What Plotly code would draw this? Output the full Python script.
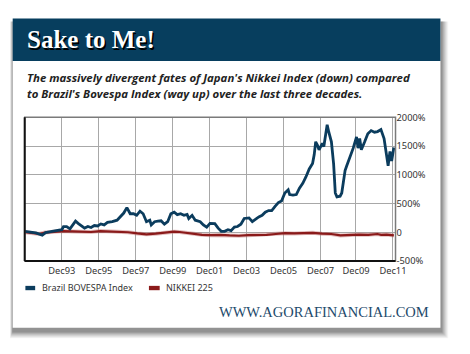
import plotly.graph_objects as go

# ---------------- data ----------------
bov_year = [1991.92, 1992.16, 1992.51, 1992.86, 1993.04, 1993.39, 1993.65, 1993.92, 1994.01, 1994.18,
            1994.36, 1994.54, 1994.66, 1994.80, 1994.98, 1995.15, 1995.33, 1995.50, 1995.68, 1995.86,
            1996.03, 1996.21, 1996.39, 1996.65, 1996.91, 1997.09, 1997.27, 1997.44, 1997.53, 1997.62,
            1997.80, 1997.97, 1998.15, 1998.32, 1998.50, 1998.68, 1998.76, 1998.94, 1999.12, 1999.29,
            1999.47, 1999.65, 1999.82, 2000.00, 2000.17, 2000.35, 2000.53, 2000.70, 2000.79, 2000.97,
            2001.14, 2001.41, 2001.58, 2001.76, 2001.94, 2002.20, 2002.38, 2002.55, 2002.73, 2002.91,
            2003.08, 2003.26, 2003.43, 2003.61, 2003.79, 2004.05, 2004.23, 2004.40, 2004.58, 2004.76,
            2004.93, 2005.11, 2005.28, 2005.46, 2005.64, 2005.81, 2005.99, 2006.17, 2006.25, 2006.43,
            2006.61, 2006.78, 2006.96, 2007.13, 2007.31, 2007.49, 2007.58, 2007.66, 2007.75, 2007.84,
            2008.02, 2008.10, 2008.19, 2008.28, 2008.37, 2008.51, 2008.63, 2008.72, 2008.81, 2008.98,
            2009.07, 2009.16, 2009.25, 2009.34, 2009.51, 2009.69, 2009.87, 2009.95, 2010.04, 2010.13,
            2010.31, 2010.48, 2010.66, 2010.84, 2011.01, 2011.19, 2011.36, 2011.50, 2011.58, 2011.68,
            2011.77, 2011.89]
bov_pct = [15, 0, -10, -50, -5, 15, 35, 45, 100, 100,
           60, 130, 195, 155, 110, 72, 100, 83, 117, 110,
           145, 128, 172, 184, 210, 267, 334, 428, 378, 322,
           322, 295, 367, 322, 184, 210, 128, 184, 195, 200,
           140, 184, 322, 350, 306, 322, 295, 311, 240, 295,
           210, 184, 128, 89, 155, 150, 72, 17, 17, 45,
           28, 89, 100, 140, 240, 250, 184, 228, 267, 295,
           350, 378, 378, 450, 517, 545, 684, 740, 656, 645,
           656, 768, 851, 962, 1101, 1196, 1352, 1574, 1519, 1435,
           1547, 1491, 1714, 1869, 1741, 1574, 1185, 684, 617, 628,
           684, 907, 1074, 1157, 1296, 1463, 1658, 1463, 1630, 1435,
           1574, 1714, 1769, 1741, 1752, 1786, 1630, 1352, 1157, 1407,
           1240, 1474]

nik_year = [1991.92, 1992.3, 1992.7, 1993.0, 1993.5, 1994.0, 1994.5, 1995.0, 1995.5, 1996.0,
            1996.5, 1997.0, 1997.5, 1998.0, 1998.5, 1999.0, 1999.5, 2000.0, 2000.3, 2000.7,
            2001.0, 2001.5, 2002.0, 2002.5, 2003.0, 2003.5, 2004.0, 2004.5, 2005.0, 2005.5,
            2006.0, 2006.5, 2007.0, 2007.5, 2008.0, 2008.5, 2009.0, 2009.5, 2010.0, 2010.5,
            2011.0, 2011.2, 2011.5, 2011.89]
nik_pct = [0, -10, -30, -5, 10, 20, 15, 10, 5, 20,
           15, 5, 0, -20, -35, -25, -5, 10, 5, -15,
           -30, -45, -50, -45, -55, -60, -50, -50, -45, -30,
           -15, -20, -15, -10, -25, -30, -55, -45, -40, -45,
           -30, -45, -40, -55]

tick_vals = [1993.92, 1995.92, 1997.92, 1999.92, 2001.92, 2003.92, 2005.92, 2007.92, 2009.84, 2011.84]
tick_text = ["Dec93", "Dec95", "Dec97", "Dec99", "Dec01", "Dec03", "Dec05", "Dec07", "Dec09", "Dec11"]
y_vals = [-500, 0, 500, 1000, 1500, 2000]
y_text = ["-500%", "0", "500%", "1000%", "1500%", "2000%"]

title = "Sake to Me!"
subtitle = ["The massively divergent fates of Japan's Nikkei Index (down) compared",
            "to Brazil's Bovespa Index (way up) over the last three decades."]
series_names = ["Brazil BOVESPA Index", "NIKKEI 225"]
footer = "WWW.AGORAFINANCIAL.COM"

# ---------------- layout helpers ----------------
W, H = 470, 354
def px(x): return x / W
def py(y): return 1 - y / H

BLUE = "#0b3c5d"
RED = "#8b1a1a"
HEADER = "#073e5e"
TXT = "#333333"

PL, PR, PT, PB = 25.3, 405.0, 114.5, 263.7

fig = go.Figure()
fig.add_trace(go.Scatter(x=nik_year, y=nik_pct, mode="lines",
                         line=dict(color="rgba(190,110,110,0.45)", width=4), hoverinfo="skip"))
fig.add_trace(go.Scatter(x=nik_year, y=nik_pct, mode="lines", name=series_names[1],
                         line=dict(color=RED, width=2.2)))
fig.add_trace(go.Scatter(x=bov_year, y=bov_pct, mode="lines", name=series_names[0],
                         line=dict(color=BLUE, width=2.8)))

shapes = []
# card shadow
for i, a in enumerate([0.04, 0.05, 0.06, 0.07, 0.08, 0.10, 0.12]):
    d = 7 - i
    shapes.append(dict(type="rect", xref="paper", yref="paper",
                       x0=px(13 - d * 0.4), x1=px(451 + d + 1), y0=py(333 + d + 4), y1=py(12 + 3),
                       line=dict(width=0), fillcolor=f"rgba(0,0,0,{a})", layer="below"))
# card
shapes.append(dict(type="rect", xref="paper", yref="paper", x0=px(13), x1=px(451), y0=py(333), y1=py(12),
                   line=dict(width=0), fillcolor="white", layer="below"))
# header band
shapes.append(dict(type="rect", xref="paper", yref="paper", x0=px(13), x1=px(451), y0=py(56), y1=py(12),
                   line=dict(width=0), fillcolor=HEADER, layer="below"))
# plot frame
shapes.append(dict(type="rect", xref="paper", yref="paper", x0=px(PL), x1=px(PR), y0=py(PB), y1=py(PT),
                   line=dict(color="#7a7a7a", width=1.5), layer="above"))
shapes.append(dict(type="line", xref="paper", yref="paper", x0=px(PL), x1=px(PL), y0=py(PB), y1=py(PT),
                   line=dict(color="#111111", width=2), layer="above"))
shapes.append(dict(type="line", xref="paper", yref="paper", x0=px(PL), x1=px(PR), y0=py(PB), y1=py(PB),
                   line=dict(color="#111111", width=2), layer="above"))
# legend swatches
shapes.append(dict(type="rect", xref="paper", yref="paper", x0=px(26), x1=px(36), y0=py(294), y1=py(289.5),
                   line=dict(width=0), fillcolor=BLUE))
shapes.append(dict(type="rect", xref="paper", yref="paper", x0=px(152.5), x1=px(163.5), y0=py(294), y1=py(289.5),
                   line=dict(width=0), fillcolor=RED))

ann = []
ann.append(dict(text=f"<b>{title}</b>", x=px(26), y=py(34), xref="paper", yref="paper",
                xanchor="left", yanchor="middle", showarrow=False,
                font=dict(family="Liberation Serif", size=25, color="white",
                          shadow="1.5px 1.5px 0.5px black")))
for i, line in enumerate(subtitle):
    ann.append(dict(text=f"<b><i>{line}</i></b>", x=px(25.5), y=py(73.5 + 16 * i), xref="paper", yref="paper",
                    xanchor="left", yanchor="middle", showarrow=False,
                    font=dict(family="Open Sans", size=11.4, color="#222222")))
ann.append(dict(text=series_names[0], x=px(40.5), y=py(291.5), xref="paper", yref="paper",
                xanchor="left", yanchor="middle", showarrow=False,
                font=dict(family="Noto Sans", size=9, color=TXT)))
ann.append(dict(text=series_names[1], x=px(167.5), y=py(291.5), xref="paper", yref="paper",
                xanchor="left", yanchor="middle", showarrow=False,
                font=dict(family="Noto Sans", size=9, color=TXT)))
ann.append(dict(text=footer, x=px(441), y=py(317), xref="paper", yref="paper",
                xanchor="right", yanchor="middle", showarrow=False,
                font=dict(family="Liberation Serif", size=14.5, color="#1d4a6b")))

fig.update_layout(
    width=W, height=H, margin=dict(l=0, r=0, t=0, b=0),
    paper_bgcolor="white", plot_bgcolor="white", showlegend=False,
    shapes=shapes, annotations=ann,
    xaxis=dict(domain=[px(PL), px(PR)], range=[1991.91, 2011.98], tickvals=tick_vals, ticktext=tick_text,
               showgrid=True, gridcolor="#a8a8a8", gridwidth=1, zeroline=False, showline=False,
               ticks="", ticklabelstandoff=3,
               tickfont=dict(family="Noto Sans", size=9.3, color=TXT)),
    yaxis=dict(domain=[py(PB), py(PT)], range=[-500, 2000], tickvals=y_vals, ticktext=y_text,
               side="right", showgrid=True, gridcolor="#a8a8a8", gridwidth=1, zeroline=False,
               showline=False, ticks="", ticklabelstandoff=0,
               tickfont=dict(family="Noto Sans", size=9.3, color=TXT)),
)

fig.write_html("out.html")
